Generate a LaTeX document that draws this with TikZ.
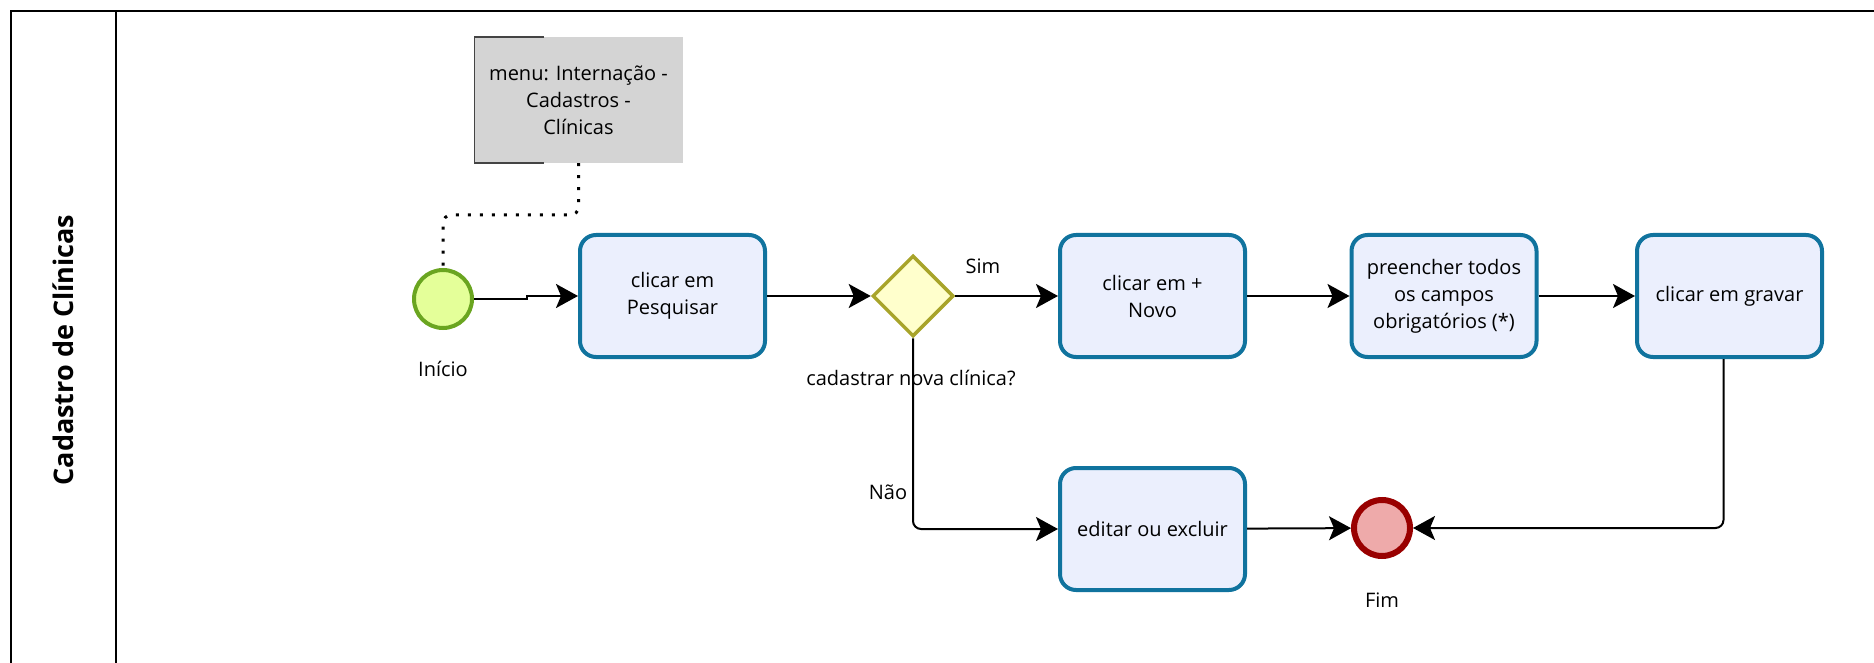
\documentclass[tikz,border=0pt]{standalone}
\usepackage{fontspec}
\setmainfont{Open Sans}
\usetikzlibrary{shapes.geometric,arrows.meta}

\definecolor{taskfill}{HTML}{EBEFFD}
\definecolor{taskline}{HTML}{10739E}
\definecolor{gwfill}{HTML}{FFFFCC}
\definecolor{gwline}{HTML}{A8A42A}
\definecolor{startfill}{HTML}{E4FF99}
\definecolor{startline}{HTML}{6AA520}
\definecolor{endfill}{HTML}{EEAAAA}
\definecolor{endline}{HTML}{990000}
\definecolor{notefill}{HTML}{D4D4D4}
\definecolor{noteline}{HTML}{444444}

\tikzset{
  txt/.style={font=\fontsize{20}{27}\selectfont, align=center},
  task/.style={txt, draw=taskline, fill=taskfill, line width=4pt, rounded corners=16pt,
    minimum width=185pt, minimum height=122pt, inner sep=0pt},
  gateway/.style={diamond, aspect=1, draw=gwline, fill=gwfill, line width=3.5pt,
    minimum width=81pt, minimum height=81pt, inner sep=0pt},
  startev/.style={circle, draw=startline, fill=startfill, line width=4pt,
    minimum size=58pt, inner sep=0pt},
  endev/.style={circle, draw=endline, fill=endfill, line width=6pt,
    minimum size=56pt, inner sep=0pt},
  note/.style={txt, fill=notefill, minimum width=208pt, minimum height=126pt, inner sep=0pt},
  flow/.style={draw=black, line width=2pt, -{Stealth[length=22pt, width=24pt, inset=5pt]}},
  assoc/.style={draw=black, line width=3pt, dash pattern=on 3pt off 9pt, rounded corners=8pt},
  lbl/.style={txt, inner sep=0pt},
}

\begin{document}
\begin{tikzpicture}[x=1pt, y=-1pt]
  \useasboundingbox (0,0) rectangle (1874,663);

  % pool and lane frame
  \draw[line width=2pt] (1875,11) -- (11,11) -- (11,664);
  \draw[line width=2pt] (116,11) -- (116,664);
  \node[rotate=90, font=\bfseries\fontsize{27}{30}\selectfont] (lane) at (63,350) {Cadastro de Clínicas};

  % annotation
  \node[note] (menu) at (578.5,100) {menu: Internação -\\Cadastros -\\Clínicas};
  \draw[noteline, line width=1.5pt] (544,37) -- (474.5,37) -- (474.5,163) -- (544,163);

  % events, tasks and gateway
  \node[startev] (start) at (443,299) {};
  \node[lbl] (startlbl) at (443,369) {Início};

  \node[task] (pesq) at (672.5,296) {clicar em\\Pesquisar};
  \node[gateway] (gw) at (913,296) {};
  \node[lbl] (gwlbl) at (911,378) {cadastrar nova clínica?};

  \node[task] (novo) at (1152.5,296) {clicar em +\\Novo};
  \node[task] (pre) at (1444,296) {preencher todos\\os campos\\obrigatórios (*)};
  \node[task] (grav) at (1729.5,296) {clicar em gravar};

  \node[task] (edit) at (1152.5,529) {editar ou excluir};
  \node[endev] (fim) at (1382,528) {};
  \node[lbl] (fimlbl) at (1382,600) {Fim};

  \node[lbl] (sim) at (983,266) {Sim};
  \node[lbl] (nao) at (888,492) {Não};

  % association from the annotation to the start event
  \coordinate (a1) at (578.5,215);
  \draw[assoc] (menu.south) -- (a1) -| (start.north);

  % sequence flows
  \coordinate (j1) at (527,299);
  \draw[flow] (start) -- (j1) |- (pesq.west);
  \draw[flow] (pesq) -- (gw);
  \draw[flow] (gw) -- (novo);
  \draw[flow] (novo) -- (pre);
  \draw[flow] (pre) -- (grav);
  \draw[flow, rounded corners=8pt] (gw.south) |- (edit.west);
  \draw[flow] (edit) -- (fim);
  \draw[flow, rounded corners=8pt] ([xshift=-6pt]grav.south) |- (fim.east);
\end{tikzpicture}
\end{document}
